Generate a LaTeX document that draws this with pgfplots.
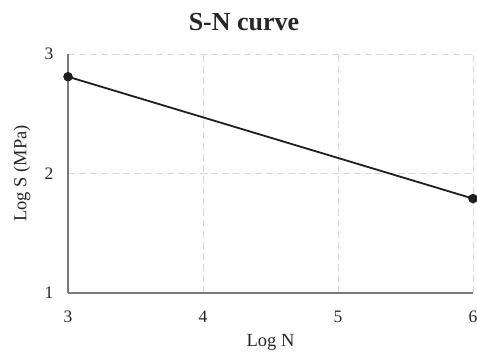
\documentclass[border=0pt]{standalone}
\usepackage{fontspec}
\setmainfont{Liberation Serif}
\usepackage{pgfplots}
\pgfplotsset{compat=1.18}
\definecolor{gridc}{HTML}{D9D9D9}
\definecolor{axc}{HTML}{7A7A7A}
\definecolor{linec}{HTML}{1F1F1F}
\begin{document}
\begin{tikzpicture}
\path[use as bounding box] (0,0) rectangle (477pt,354pt);
\begin{axis}[
  at={(68pt,61pt)}, anchor=south west,
  scale only axis, width=405pt, height=239pt,
  xmin=3, xmax=6, ymin=1, ymax=3,
  xtick={3,4,5,6}, ytick={1,2,3},
  axis x line=bottom, axis y line=left,
  axis line style={axc, line width=1.2pt, -},
  tick style={draw=none},
  grid=major,
  major grid style={gridc, dashed, line width=0.9pt, dash pattern=on 7pt off 4pt},
  /pgf/number format/assume math mode=true,
  tick label style={font=\fontsize{17.5}{17.5}\selectfont, text=black!85},
  xticklabel style={yshift=-12pt},
  yticklabel style={xshift=-9pt},
  xlabel={Log N}, ylabel={Log S (MPa)},
  label style={font=\fontsize{18.5}{18.5}\selectfont, text=black!85},
  xlabel style={at={(axis description cs:0.5,0)}, anchor=center, yshift=-49pt},
  ylabel style={at={(axis description cs:0,0.5)}, anchor=center, yshift=46pt},
  clip=false,
]
\addplot[linec, line width=1.8pt, mark=*, mark size=3.8pt, mark options={fill=linec}] coordinates {(3,2.81) (6,1.79)};
\end{axis}
\node[font=\fontsize{26}{26}\selectfont\bfseries, text=black!85] at (244pt,332pt) {S-N curve};
\end{tikzpicture}
\end{document}
